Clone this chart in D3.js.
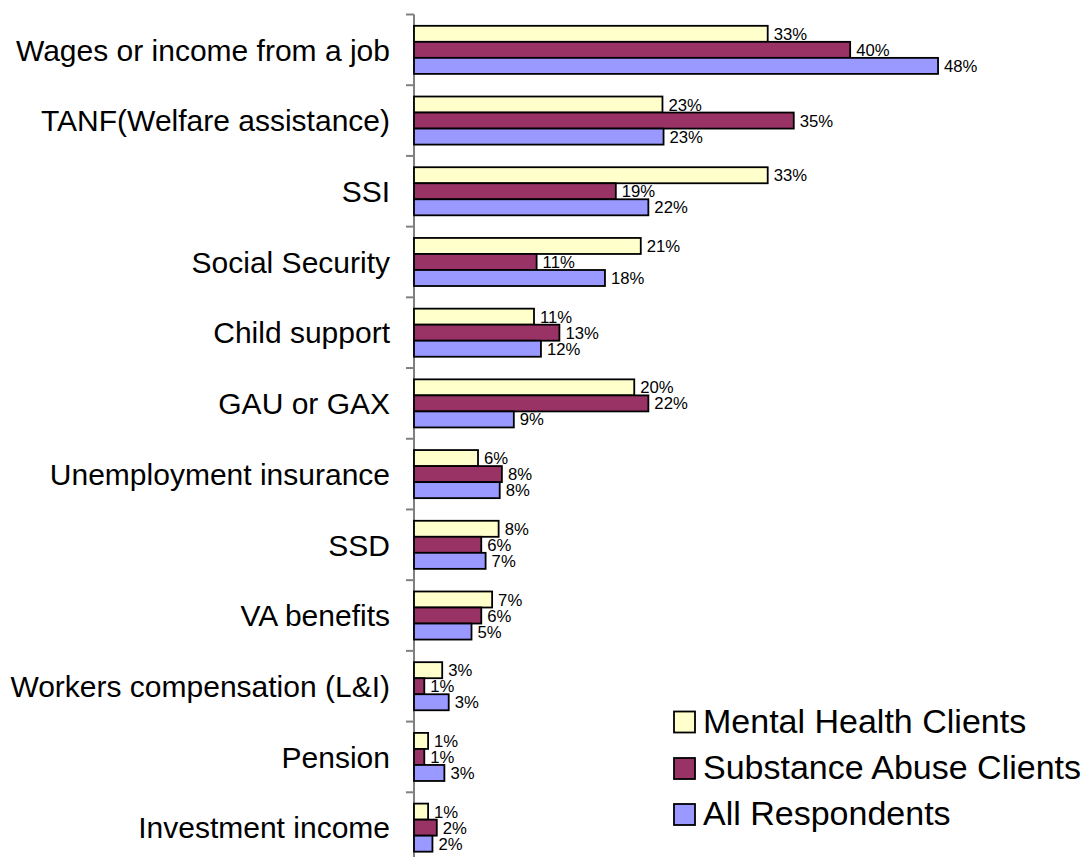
<!DOCTYPE html>
<html>
<head>
<meta charset="utf-8">
<script src="https://cdn.jsdelivr.net/npm/d3@7"></script>
<style>
  html, body { margin: 0; padding: 0; background: #fff; }
  svg { display: block; font-family: Arial, "Liberation Sans", sans-serif; }
</style>
</head>
<body>
<svg id="chart" width="1086" height="857"></svg>
<script>
const categories = ["Wages or income from a job", "TANF(Welfare assistance)", "SSI", "Social Security", "Child support", "GAU or GAX", "Unemployment insurance", "SSD", "VA benefits", "Workers compensation (L&I)", "Pension", "Investment income"];
const seriesNames = ["Mental Health Clients", "Substance Abuse Clients", "All Respondents"];
const mentalHealth = [32.6, 22.9, 32.6, 20.9, 11.06, 20.3, 5.9, 7.8, 7.2, 2.6, 1.3, 1.3];
const substanceAbuse = [40.2, 35.0, 18.6, 11.3, 13.4, 21.6, 8.1, 6.2, 6.2, 0.95, 0.95, 2.1];
const allRespondents = [48.3, 23.0, 21.6, 17.6, 11.7, 9.2, 7.9, 6.6, 5.3, 3.2, 2.8, 1.7];
const seriesColors = ["#FFFFCC", "#993366", "#9999FF"];

const seriesValues = [mentalHealth, substanceAbuse, allRespondents];
const svg = d3.select("#chart");

const x = d3.scaleLinear().domain([0, 50]).range([414, 414 + 542.5]);
const y = d3.scaleBand().domain(categories).range([14.5, 863]).paddingInner(0.32).paddingOuter(0.16);
const ySub = d3.scaleBand().domain(d3.range(seriesNames.length)).range([0, y.bandwidth()]);

// axis line and ticks at band boundaries
const step = y.step();
const boundaries = d3.range(categories.length + 1).map(i => 14.5 + i * step);
svg.append("line")
  .attr("x1", x(0)).attr("x2", x(0))
  .attr("y1", 14.5).attr("y2", 863)
  .attr("stroke", "#808080").attr("stroke-width", 2);
svg.selectAll("line.tick").data(boundaries).join("line")
  .attr("class", "tick")
  .attr("x1", x(0) - 8).attr("x2", x(0))
  .attr("y1", d => d).attr("y2", d => d)
  .attr("stroke", "#808080").attr("stroke-width", 2);

// category labels
svg.selectAll("text.cat").data(categories).join("text")
  .attr("class", "cat")
  .attr("x", 390)
  .attr("y", d => y(d) + y.bandwidth() / 2)
  .attr("dy", "0.36em")
  .attr("text-anchor", "end")
  .attr("font-size", "30px")
  .attr("fill", "#000")
  .text(d => d);

// bars
const barData = [];
seriesValues.forEach((vals, s) => {
  vals.forEach((v, i) => barData.push({ cat: categories[i], s, v }));
});

svg.selectAll("rect.bar").data(barData).join("rect")
  .attr("class", "bar")
  .attr("x", x(0))
  .attr("y", d => y(d.cat) + ySub(d.s))
  .attr("width", d => x(d.v) - x(0))
  .attr("height", ySub.bandwidth())
  .attr("fill", d => seriesColors[d.s])
  .attr("stroke", "#000")
  .attr("stroke-width", 1.8);

svg.selectAll("text.val").data(barData).join("text")
  .attr("class", "val")
  .attr("x", d => x(d.v) + 6)
  .attr("y", d => y(d.cat) + ySub(d.s) + ySub.bandwidth() / 2)
  .attr("dy", "0.36em")
  .attr("font-size", "16.7px")
  .attr("fill", "#000")
  .text(d => Math.round(d.v) + "%");

// legend
const legendRows = [732.5, 779, 825];
const lg = svg.selectAll("g.leg").data(seriesNames).join("g").attr("class", "leg");
lg.append("rect")
  .attr("x", 674).attr("y", (d, i) => legendRows[i] - 21)
  .attr("width", 21).attr("height", 21)
  .attr("fill", (d, i) => seriesColors[i])
  .attr("stroke", "#000").attr("stroke-width", 1.8);
lg.append("text")
  .attr("x", 703).attr("y", (d, i) => legendRows[i])
  .attr("font-size", "34px")
  .attr("fill", "#000")
  .text(d => d);
</script>
</body>
</html>
